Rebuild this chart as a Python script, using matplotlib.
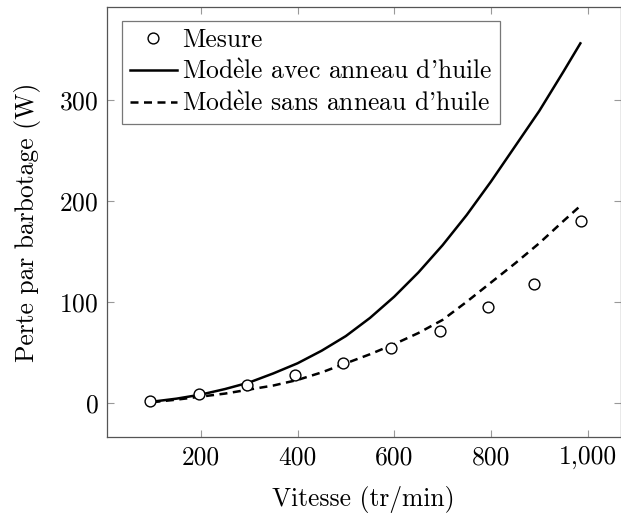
import matplotlib
matplotlib.use("Agg")
import matplotlib.pyplot as plt
from matplotlib.ticker import FuncFormatter

plt.rcParams['font.family'] = ['cmr10', 'DejaVu Serif']
plt.rcParams['axes.formatter.use_mathtext'] = True
plt.rcParams['mathtext.fontset'] = 'cm'

# Mesures (points)
vitesse_mesure = [95, 196, 295, 395, 494, 593, 694, 794, 890, 987]
perte_mesure = [2, 8.9, 17.8, 27.4, 39.6, 53.9, 71.3, 94.8, 117.2, 180.2]

# Modèles
vitesse_modele = [100, 150, 200, 250, 300, 350, 400, 450, 500, 550, 600,
                  650, 700, 750, 800, 850, 900, 950, 985]
perte_avec_anneau = [1, 4, 8, 13.5, 20, 29, 39, 51.5, 66, 84, 105,
                     129, 156, 186, 219, 254, 289, 328, 356]
perte_sans_anneau = [0.5, 3, 6, 9, 13, 17, 22.5, 30, 39, 48, 58,
                     69, 82, 100, 119, 138, 158, 180, 195]

x_ticks = [200, 400, 600, 800, 1000]
y_ticks = [0, 100, 200, 300]

fs = 18.4

fig = plt.figure(figsize=(6.21, 5.15), dpi=100)
ax = fig.add_axes([107 / 621, 77.7 / 515, 513.5 / 621, 430.3 / 515])

ax.plot(vitesse_mesure, perte_mesure, 'o', mfc='white', mec='black',
        ms=7.8, mew=1.0, label='Mesure', zorder=3)
ax.plot(vitesse_modele, perte_avec_anneau, '-', color='black', lw=1.8,
        label=r"Mod$\mathrm{\grave{e}}$le avec anneau d'huile")
ax.plot(vitesse_modele, perte_sans_anneau, '--', color='black', lw=1.8,
        dashes=(3.2, 2.2), label=r"Mod$\mathrm{\grave{e}}$le sans anneau d'huile")

ax.set_xlim(6, 1068)
ax.set_ylim(-34.3, 392)
ax.set_xticks(x_ticks)
ax.set_yticks(y_ticks)
ax.xaxis.set_major_formatter(FuncFormatter(lambda v, p: f"{v:,.0f}"))

for s in ax.spines.values():
    s.set_color('#555555')
    s.set_linewidth(0.9)
ax.tick_params(direction='in', length=5, width=0.8, color='#999999',
               top=True, right=True, labelsize=fs, pad=6)

ax.set_xlabel('Vitesse (tr/min)', fontsize=fs, labelpad=12)
ax.set_ylabel('Perte par barbotage (W)', fontsize=fs, labelpad=13)

leg = ax.legend(loc='upper left', bbox_to_anchor=(0.029, 0.968), fontsize=fs,
                frameon=True, fancybox=False, handlelength=1.85,
                handletextpad=0.2, borderpad=0.3, labelspacing=0.3,
                borderaxespad=0)
leg.get_frame().set_edgecolor('#555555')
leg.get_frame().set_linewidth(0.9)

fig.savefig('out.png', dpi=100)
